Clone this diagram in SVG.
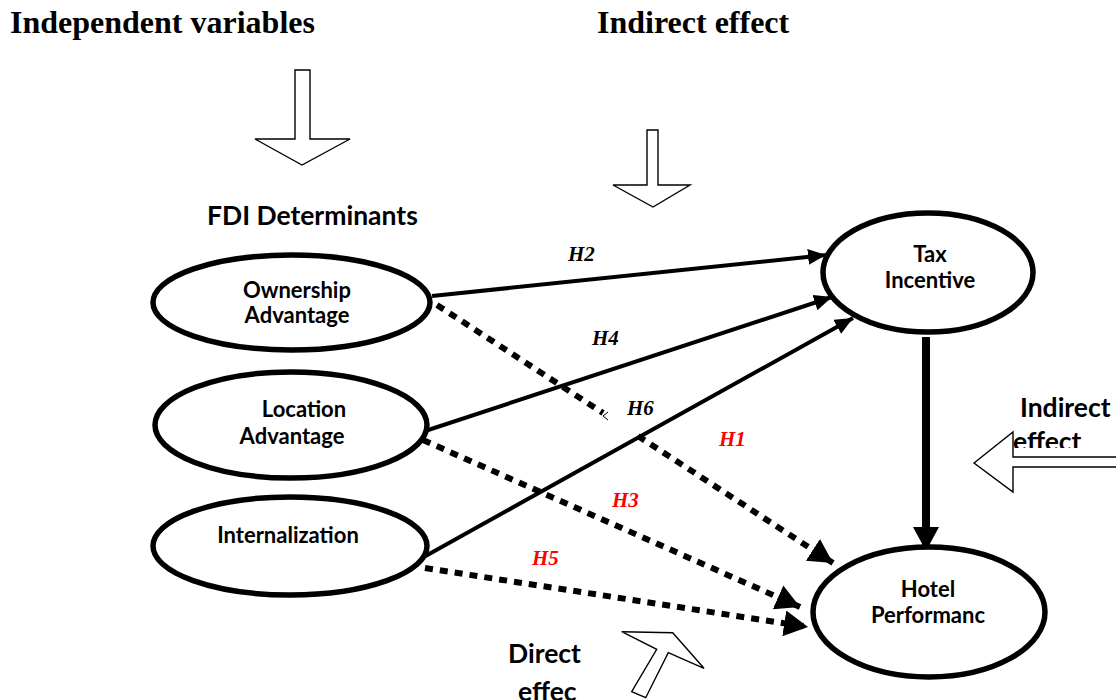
<svg xmlns="http://www.w3.org/2000/svg" width="1116" height="700" viewBox="0 0 1116 700">
<style>
.title{font-family:"Liberation Serif","Times New Roman",serif;font-weight:bold;font-size:32px;fill:#000}
.head{font-family:Lato,"Liberation Sans",sans-serif;font-weight:bold;font-size:26.5px;fill:#000}
.lbl{font-family:Lato,"Liberation Sans",sans-serif;font-weight:bold;font-size:22px;fill:#000;text-anchor:middle}
.hyp{font-family:"Liberation Serif","Times New Roman",serif;font-weight:bold;font-style:italic;font-size:21px;fill:#000}
.red{fill:#ff0000}
.node{fill:#fff;stroke:#000;stroke-width:5.5}
.block{fill:#fff;stroke:#000;stroke-width:1.4;stroke-linejoin:miter}
.solid{stroke:#000;stroke-width:4;fill:none}
.dash{stroke:#000;stroke-width:6;fill:none;stroke-dasharray:8 7}
</style>
<defs>
<marker id="ah" markerUnits="userSpaceOnUse" markerWidth="20" markerHeight="16" refX="18" refY="8" orient="auto">
<path d="M0,0 L18,8 L0,16 Z" fill="#000"/>
</marker>
<marker id="ahb" markerUnits="userSpaceOnUse" markerWidth="26" markerHeight="26" refX="24" refY="13" orient="auto">
<path d="M0,0 L24,13 L0,26 Z" fill="#000"/>
</marker>
<clipPath id="clipEff"><rect x="990" y="380" width="126" height="68"/></clipPath>
</defs>

<g id="titles">
<text class="title" x="10" y="33">Independent variables</text>
<text class="title" x="597" y="33">Indirect effect</text>
<text class="head" x="207" y="225">FDI Determinants</text>
</g>

<g id="block-arrows">
<polygon class="block" points="295,70 310,70 310,139 350,139 302,165 255,139 295,139"/>
<polygon class="block" points="647,130 658,130 658,185 690,185 653,207 613,185 647,185"/>
</g>

<g id="indirect-right">
<text class="head" x="1020" y="417">Indirect</text>
<text class="head" x="1013" y="451" clip-path="url(#clipEff)">effect</text>
<polygon class="block" points="974,463 1013,432 1013,457 1118,457 1118,467 1013,467 1013,492"/>
</g>

<g id="direct-label">
<text class="head" x="508" y="663">Direct</text>
<text class="head" x="518" y="701">effec</text>
<polygon class="block" points="621.7,631.7 672.7,632.7 704,668.3 668.3,652.7 645.7,697.7 631.7,691.7 656.7,649.3"/>
</g>

<g id="connectors">
<line class="solid" x1="432" y1="296" x2="826" y2="255" marker-end="url(#ah)"/>
<line class="solid" x1="413" y1="435" x2="832" y2="297" marker-end="url(#ah)"/>
<line class="solid" x1="413" y1="563" x2="853" y2="318" marker-end="url(#ah)"/>
<line x1="926" y1="337" x2="926" y2="551" stroke="#000" stroke-width="8" marker-end="url(#ahb)"/>
<line class="dash" x1="437" y1="305" x2="603" y2="413"/>
<polyline points="608,412 603,416 608,420" fill="none" stroke="#000" stroke-width="1"/>
<line class="dash" x1="638" y1="436" x2="833" y2="563" marker-end="url(#ahb)"/>
<line class="dash" x1="423" y1="440" x2="800" y2="607" marker-end="url(#ahb)"/>
<line class="dash" x1="425" y1="568" x2="808" y2="627" marker-end="url(#ahb)"/>
</g>

<g id="hyp-labels">
<text class="hyp" x="568" y="261">H2</text>
<text class="hyp" x="592" y="345">H4</text>
<text class="hyp" x="627" y="415">H6</text>
<text class="hyp red" x="719" y="446">H1</text>
<text class="hyp red" x="612" y="507">H3</text>
<text class="hyp red" x="532" y="565">H5</text>
</g>

<g id="ownership">
<ellipse class="node" cx="291.5" cy="302.5" rx="138.5" ry="47.5"/>
<text class="lbl" x="297" y="298">Ownership</text>
<text class="lbl" x="297" y="323">Advantage</text>
</g>
<g id="location">
<ellipse class="node" cx="291" cy="425" rx="136" ry="53"/>
<text class="lbl" x="304" y="417">Location</text>
<text class="lbl" x="292" y="444">Advantage</text>
</g>
<g id="internalization">
<ellipse class="node" cx="290" cy="546" rx="137" ry="49"/>
<text class="lbl" x="288" y="542.5">Internalization</text>
</g>
<g id="tax-incentive">
<ellipse class="node" cx="928" cy="272.5" rx="105" ry="59.5"/>
<text class="lbl" x="930" y="262">Tax</text>
<text class="lbl" x="930" y="288">Incentive</text>
</g>
<g id="hotel-performance">
<ellipse class="node" cx="929" cy="612" rx="116" ry="65"/>
<text class="lbl" x="928" y="597">Hotel</text>
<text class="lbl" x="928" y="623">Performanc</text>
</g>
</svg>
